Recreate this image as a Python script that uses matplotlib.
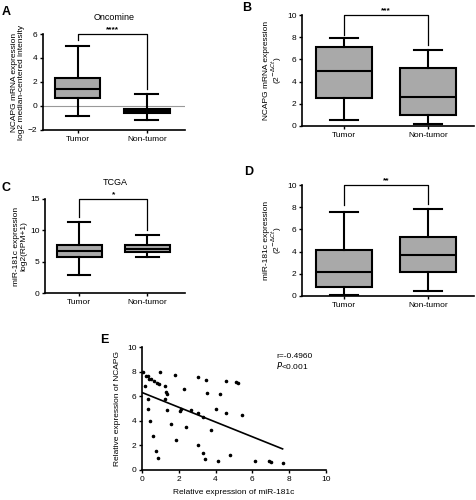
import matplotlib as mpl
import matplotlib.pyplot as plt
import numpy as np

mpl.rcParams["font.family"] = "Liberation Sans"
mpl.rcParams["font.size"] = 6
mpl.rcParams["axes.linewidth"] = 1.2
mpl.rcParams["xtick.major.width"] = 1.0
mpl.rcParams["ytick.major.width"] = 1.0
mpl.rcParams["xtick.major.size"] = 2.5
mpl.rcParams["ytick.major.size"] = 2.5
mpl.rcParams["xtick.major.pad"] = 2
mpl.rcParams["ytick.major.pad"] = 1.5

groups = ["Tumor", "Non-tumor"]

# box stats: whislo, q1, med, q3, whishi
box_a = [[-0.85, 0.65, 1.4, 2.35, 5.0], [-1.2, -0.6, -0.45, -0.25, 1.0]]
box_b = [[0.55, 2.5, 5.0, 7.1, 7.95], [0.2, 0.95, 2.6, 5.25, 6.85]]
box_c = [[2.8, 5.7, 6.7, 7.7, 11.4], [5.8, 6.5, 7.1, 7.6, 9.3]]
box_d = [[0.1, 0.85, 2.2, 4.1, 7.6], [0.45, 2.2, 3.7, 5.35, 7.85]]

# bracket: top, left drop, right drop, stars
sig_a = [6.0, 5.5, 1.45, "****"]
sig_b = [10.0, 8.2, 7.3, "***"]
sig_c = [15.0, 12.2, 10.0, "*"]
sig_d = [10.0, 8.2, 8.3, "**"]

# scatter E
mir_x = [0.05, 0.2, 0.3, 0.4, 0.47, 0.16, 0.33, 0.33, 0.45, 0.65, 0.84, 0.9, 0.96,
         0.62, 0.78, 0.87, 1.25, 1.27, 1.33, 1.36, 1.36, 1.55, 1.78, 1.85, 2.1, 2.09,
         2.27, 2.38, 2.64, 3.05, 3.02, 3.05, 3.29, 3.33, 3.45, 3.5, 3.53, 3.76, 4.0,
         4.13, 4.24, 4.55, 4.55, 4.78, 5.1, 5.2, 5.42, 6.15, 6.9, 7.0, 7.64]
ncapg_y = [8.0, 7.65, 7.65, 7.4, 7.4, 6.8, 5.8, 4.95, 4.0, 7.2, 7.1, 7.0, 7.95,
           2.8, 1.55, 1.0, 6.8, 5.8, 6.35, 6.2, 4.9, 3.7, 7.7, 2.45, 4.95, 4.8,
           6.55, 3.5, 4.85, 7.6, 4.6, 2.0, 1.4, 4.3, 0.9, 7.35, 6.3, 3.25, 5.0,
           0.75, 6.2, 7.25, 4.6, 1.25, 7.15, 7.1, 4.45, 0.75, 0.73, 0.68, 0.55]
fit_intercept = 6.3
fit_slope = -0.6
fit_xrange = [0.0, 7.64]

W, H = 476, 500
fig = plt.figure(figsize=(W / 100, H / 100), dpi=100)


def px_axes(left, right, top, bottom):
    return fig.add_axes([left / W, 1 - bottom / H, (right - left) / W, (bottom - top) / H])


def style(ax):
    for s in ["top", "right"]:
        ax.spines[s].set_visible(False)


def box_panel(ax, data, sig, ylim, yticks, ylabel):
    stats = []
    for g, d in zip(groups, data):
        stats.append(dict(label=g, whislo=d[0], q1=d[1], med=d[2], q3=d[3], whishi=d[4], fliers=[]))
    ax.bxp(stats, positions=[1, 2], widths=0.66, patch_artist=True, showfliers=False,
           boxprops=dict(facecolor="#a9a9a9", edgecolor="black", linewidth=1.5),
           medianprops=dict(color="black", linewidth=1.5),
           whiskerprops=dict(color="black", linewidth=1.5),
           capprops=dict(color="black", linewidth=1.5), capwidths=0.33)
    ax.set_xlim(0.5, 2.55)
    ax.set_ylim(*ylim)
    ax.set_yticks(yticks)
    ax.set_ylabel(ylabel, fontsize=6, labelpad=2, linespacing=1.0)
    top, l, r, stars = sig
    ax.plot([1, 1, 2, 2], [l, top, top, r], color="black", lw=0.9, clip_on=False)
    ax.text(1.5, top + (ylim[1] - ylim[0]) * 0.01, stars, ha="center", va="bottom",
            fontsize=6, fontweight="bold")
    style(ax)


ax_a = px_axes(43, 185, 34, 130)
box_panel(ax_a, box_a, sig_a, (-2, 6), [-2, 0, 2, 4, 6],
          "NCAPG mRNA expression\nlog2 median-centered intensity")
ax_a.axhline(0, color="#999999", lw=0.8, zorder=0)
ax_a.set_title("Oncomine", fontsize=6.5, pad=10)

ax_b = px_axes(302, 474, 15, 126)
box_panel(ax_b, box_b, sig_b, (0, 10), [0, 2, 4, 6, 8, 10],
          "NCAPG mRNA expression\n(2$^{-\\Delta Ct}$)")

ax_c = px_axes(45, 185, 199, 293)
box_panel(ax_c, box_c, sig_c, (0, 15), [0, 5, 10, 15],
          "miR-181c expression\nlog2(RPM+1)")
ax_c.set_title("TCGA", fontsize=6.5, pad=10)

ax_d = px_axes(302, 474, 185, 296)
box_panel(ax_d, box_d, sig_d, (0, 10), [0, 2, 4, 6, 8, 10],
          "miR-181c expression\n(2$^{-\\Delta Ct}$)")

ax_e = px_axes(142, 326, 347, 470)
ax_e.scatter(mir_x, ncapg_y, s=2.5, color="black", zorder=3)
fx = np.array(fit_xrange)
ax_e.plot(fx, fit_intercept + fit_slope * fx, color="black", lw=1.2)
ax_e.set_xlim(0, 10)
ax_e.set_ylim(0, 10)
ax_e.set_xticks(range(0, 11, 2))
ax_e.set_yticks(range(0, 11, 2))
ax_e.set_xlabel("Relative expression of miR-181c", fontsize=6)
ax_e.set_ylabel("Relative expression of NCAPG", fontsize=6)
ax_e.text(7.3, 9.5, "r=-0.4960\n$P$<0.001", fontsize=6, va="top", ha="left", linespacing=1.0)
style(ax_e)

for letter, x, y in [("A", 2, 12), ("B", 242, 8), ("C", 2, 188), ("D", 244, 172), ("E", 100, 340)]:
    fig.text(x / W, 1 - y / H, letter, fontsize=9, fontweight="bold", va="center", ha="left")

fig.savefig("out.png", dpi=100)
